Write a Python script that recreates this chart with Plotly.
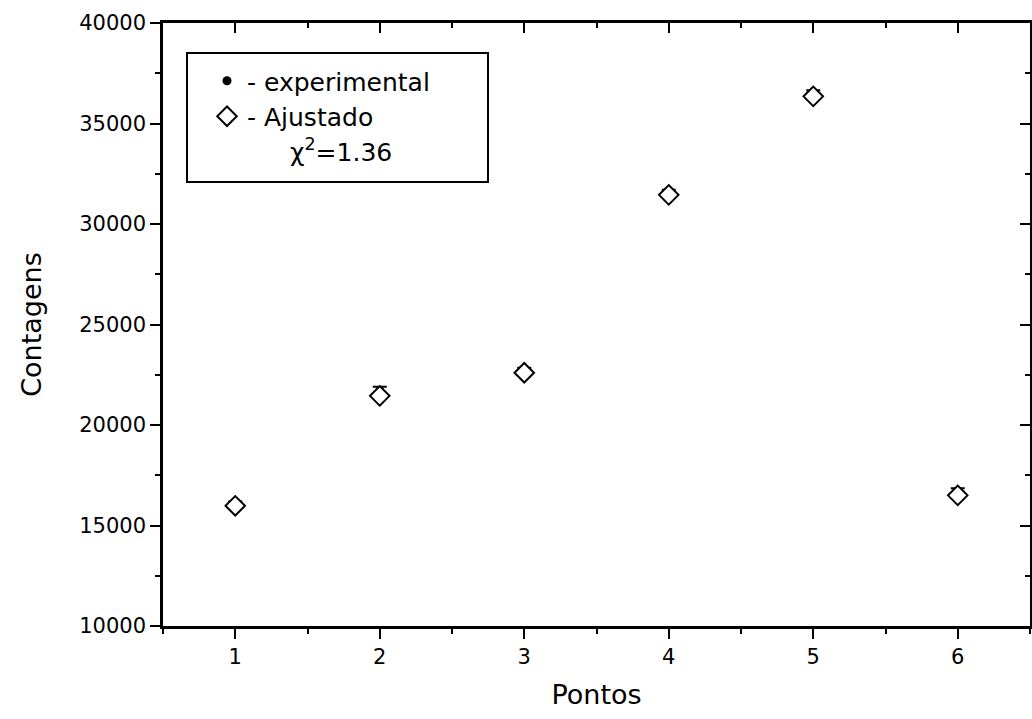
import plotly.graph_objects as go

pontos = [1, 2, 3, 4, 5, 6]
experimental = [16050, 21700, 22700, 31550, 36450, 16650]
ajustado = [15980, 21450, 22600, 31450, 36350, 16500]
exp_err = [150, 200, 150, 150, 200, 200]
x_ticks = [1, 2, 3, 4, 5, 6]
y_ticks = [10000, 15000, 20000, 25000, 30000, 35000, 40000]
y_tick_text = ["10000", "15000", "20000", "25000", "30000", "35000", "40000"]
chi2_text = "χ<sup>2</sup>=1.36"

FONT = "DejaVu Sans, Liberation Sans, Arial, sans-serif"

fig = go.Figure()
fig.add_trace(go.Scatter(
    x=pontos, y=experimental, mode="markers", name="- experimental",
    marker=dict(symbol="circle", size=9, color="black"),
    error_y=dict(type="data", array=exp_err, color="black", thickness=2, width=7),
))
fig.add_trace(go.Scatter(
    x=pontos, y=ajustado, mode="markers", name="- Ajustado",
    marker=dict(symbol="diamond", size=15, color="white",
                line=dict(color="black", width=2)),
))
# invisible trace for mirrored top/right axes
fig.add_trace(go.Scatter(x=[pontos[0]], y=[ajustado[0]], xaxis="x2", yaxis="y2",
                         mode="markers", marker=dict(opacity=0), showlegend=False,
                         hoverinfo="skip"))

axis_common = dict(showgrid=False, zeroline=False, showline=True, linecolor="black",
                   linewidth=2.5, tickcolor="black", tickwidth=2)
tickfont = dict(family=FONT, size=21, color="black")

fig.update_layout(
    width=1032, height=719,
    margin=dict(l=163, r=2, t=23, b=93),
    plot_bgcolor="white", paper_bgcolor="white",
    font=dict(family=FONT, color="black", size=21),
    showlegend=True,
    legend=dict(x=(207 - 163) / 867, y=(626 - 58) / 603, xanchor="left", yanchor="top",
                bgcolor="rgba(0,0,0,0)", borderwidth=0,
                font=dict(size=25, family=FONT), itemsizing="trace",
                tracegroupgap=0),
    xaxis=dict(range=[0.5, 6.5], tickvals=x_ticks, ticks="outside", ticklen=10,
               tickfont=tickfont,
               minor=dict(dtick=0.5, tick0=0.5, ticks="outside", ticklen=5,
                          tickcolor="black", tickwidth=2),
               title=dict(text="Pontos", font=dict(size=27, family=FONT), standoff=18),
               **axis_common),
    yaxis=dict(range=[10000, 40000], tickvals=y_ticks, ticktext=y_tick_text,
               ticks="outside", ticklen=10, tickfont=tickfont,
               minor=dict(dtick=2500, tick0=10000, ticks="outside", ticklen=5,
                          tickcolor="black", tickwidth=2),
               title=dict(text="Contagens", font=dict(size=27, family=FONT), standoff=30),
               **axis_common),
    xaxis2=dict(range=[0.5, 6.5], overlaying="x", side="top", tickvals=x_ticks,
                ticks="inside", ticklen=10, showticklabels=False,
                minor=dict(dtick=0.5, tick0=0.5, ticks="inside", ticklen=5,
                           tickcolor="black", tickwidth=2),
                **axis_common),
    yaxis2=dict(range=[10000, 40000], overlaying="y", side="right", tickvals=y_ticks,
                ticks="inside", ticklen=10, showticklabels=False,
                minor=dict(dtick=2500, tick0=10000, ticks="inside", ticklen=5,
                           tickcolor="black", tickwidth=2),
                **axis_common),
)

# legend box
fig.add_shape(type="rect", xref="paper", yref="paper",
              x0=(187 - 163) / 867, x1=(488 - 163) / 867,
              y0=(626 - 182) / 603, y1=(626 - 53) / 603,
              line=dict(color="black", width=2), fillcolor="rgba(0,0,0,0)")
fig.add_annotation(text=chi2_text, xref="paper", yref="paper",
                   x=(288 - 163) / 867, y=(626 - 150) / 603,
                   xanchor="left", yanchor="middle", showarrow=False,
                   font=dict(size=25, family=FONT))

fig.write_html("out.html")
